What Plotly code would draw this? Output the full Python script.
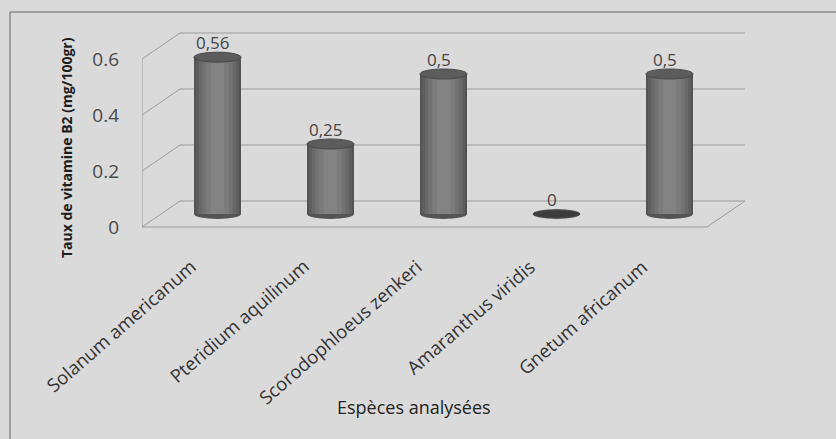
import plotly.graph_objects as go

# ---- data -------------------------------------------------------------
especes = [
    "Solanum americanum",
    "Pteridium aquilinum",
    "Scorodophloeus zenkeri",
    "Amaranthus viridis",
    "Gnetum africanum",
]
taux_b2 = [0.56, 0.25, 0.5, 0.0, 0.5]
y_ticks = [0, 0.2, 0.4, 0.6]
y_tick_text = ["0", "0.2", "0.4", "0.6"]

# ---- layout geometry (pixels) ----------------------------------------
W_FIG, H_FIG = 836, 439
M_L, M_R, M_T, M_B = 142, 76, 20, 194
PLOT_W = W_FIG - M_L - M_R
PLOT_H = H_FIG - M_T - M_B
PX_PER_CAT = 113.0          # horizontal pixels per category
PX_PER_UNIT = 280.0         # vertical pixels per mg/100gr
FLOOR_PX = 227.0            # pixel row of value 0 on the front plane
DEPTH_PX = (38.0, 26.0)     # front -> back shift of the 3-D box

n = len(especes)
x_lo = -0.5
x_range = [x_lo, x_lo + PLOT_W / PX_PER_CAT]
y_range = [-(M_T + PLOT_H - FLOOR_PX) / PX_PER_UNIT, (FLOOR_PX - M_T) / PX_PER_UNIT]

DX = DEPTH_PX[0] / PX_PER_CAT
DY = DEPTH_PX[1] / PX_PER_UNIT

# the cylinders stand half way into the box
x2_range = [x_range[0] - DX / 2, x_range[1] - DX / 2]
y2_range = [y_range[0] - DY / 2, y_range[1] - DY / 2]


def paper_x(px):
    return (px - M_L) / PLOT_W


def paper_y(py):
    return (M_T + PLOT_H - py) / PLOT_H


BG = "#dadada"
GRID = "#9c9c9c"
FONT = "Open Sans"

fig = go.Figure()

# invisible trace anchoring the front-plane axes
fig.add_trace(go.Scatter(x=list(range(n)), y=[0] * n, mode="markers",
                         marker=dict(opacity=0), hoverinfo="skip",
                         showlegend=False, xaxis="x", yaxis="y"))

# cylinder bodies: nested bars give the rounded shading
shades = [(0.416, "#545454"), (0.38, "#5e5e5e"), (0.33, "#686868"),
          (0.27, "#727272"), (0.2, "#7b7b7b"), (0.12, "#838383")]
for w, c in shades:
    fig.add_trace(go.Bar(
        x=list(range(n)), y=taux_b2, width=w,
        marker=dict(color=c, line=dict(width=0)),
        xaxis="x2", yaxis="y2", showlegend=False,
        hovertext=especes, hoverinfo="text+y",
    ))

shapes = []
line_style = dict(color=GRID, width=1)

# back wall gridlines
for v in y_ticks:
    shapes.append(dict(type="line", xref="x", yref="y", layer="below",
                       x0=x_lo + DX, x1=x_lo + n + DX, y0=v + DY, y1=v + DY,
                       line=line_style))
# left wall: front edge and receding lines
shapes.append(dict(type="line", xref="x", yref="y", layer="below",
                   x0=x_lo, x1=x_lo, y0=0, y1=max(y_ticks), line=line_style))
for v in y_ticks:
    shapes.append(dict(type="line", xref="x", yref="y", layer="below",
                       x0=x_lo, x1=x_lo + DX, y0=v, y1=v + DY, line=line_style))
# floor: front edge and right edge
shapes.append(dict(type="line", xref="x", yref="y", layer="below",
                   x0=x_lo, x1=x_lo + n, y0=0, y1=0, line=line_style))
shapes.append(dict(type="line", xref="x", yref="y", layer="below",
                   x0=x_lo + n, x1=x_lo + n + DX, y0=0, y1=DY, line=line_style))

# cylinder ends
half_w = shades[0][0] / 2
ell = 5.0 / PX_PER_UNIT
for i, v in enumerate(taux_b2):
    shapes.append(dict(type="circle", xref="x2", yref="y2", layer="below",
                       x0=i - half_w, x1=i + half_w, y0=-ell, y1=ell,
                       fillcolor="#545454", line=dict(width=0)))
    if v == 0:
        # an empty cylinder is a flat dark disc
        shapes.append(dict(type="circle", xref="x2", yref="y2", layer="above",
                           x0=i - half_w, x1=i + half_w, y0=-0.7 * ell, y1=0.7 * ell,
                           fillcolor="#3c3c3c", line=dict(color="#444444", width=1)))
    else:
        shapes.append(dict(type="circle", xref="x2", yref="y2", layer="above",
                           x0=i - half_w, x1=i + half_w, y0=v - ell, y1=v + ell,
                           fillcolor="#5c5c5c", line=dict(color="#474747", width=1)))

# chart frame
shapes.append(dict(type="line", xref="paper", yref="paper",
                   x0=paper_x(10), x1=paper_x(W_FIG + 5), y0=paper_y(12), y1=paper_y(12),
                   line=dict(color="#8a8a8a", width=1.5)))
shapes.append(dict(type="line", xref="paper", yref="paper",
                   x0=paper_x(10), x1=paper_x(10), y0=paper_y(12), y1=paper_y(H_FIG + 5),
                   line=dict(color="#8a8a8a", width=1.5)))

annotations = []
# value labels (decimal comma)
for i, v in enumerate(taux_b2):
    txt = ("%g" % v).replace(".", ",")
    annotations.append(dict(x=i, y=v, xref="x2", yref="y2", text=txt,
                            showarrow=False, xshift=-5, yshift=15,
                            font=dict(family=FONT, size=17, color="#454545")))
# category labels, slanted, ending under each category of the front plane
for i, name in enumerate(especes):
    annotations.append(dict(x=i, y=paper_y(251), xref="x", yref="paper",
                            text=name, textangle=-41, showarrow=False,
                            xanchor="right", yanchor="top", xshift=5,
                            font=dict(family=FONT, size=18.5, color="#333333")))
# axis titles
annotations.append(dict(x=paper_x(66), y=paper_y(148), xref="paper", yref="paper",
                        xanchor="center", yanchor="middle",
                        text="Taux de vitamine B2 (mg/100gr)", textangle=-90,
                        showarrow=False,
                        font=dict(family=FONT, size=14, color="#1e1e1e", weight="bold")))
annotations.append(dict(x=paper_x(414), y=paper_y(407), xref="paper", yref="paper",
                        xanchor="center", yanchor="middle",
                        text="Espèces analysées", showarrow=False,
                        font=dict(family=FONT, size=18, color="#222222")))

fig.update_layout(
    width=W_FIG, height=H_FIG,
    margin=dict(l=M_L, r=M_R, t=M_T, b=M_B),
    paper_bgcolor=BG, plot_bgcolor=BG,
    barmode="overlay",
    showlegend=False,
    shapes=shapes,
    annotations=annotations,
    xaxis=dict(range=x_range, tickvals=list(range(n)), showticklabels=False,
               showgrid=False, zeroline=False, showline=False, ticks="",
               fixedrange=True),
    yaxis=dict(range=y_range, tickvals=y_ticks, ticktext=y_tick_text,
               showgrid=False, zeroline=False, showline=False, ticks="",
               ticklabelstandoff=22,
               tickfont=dict(family=FONT, size=19, color="#4a4a4a"),
               fixedrange=True),
    xaxis2=dict(range=x2_range, overlaying="x", visible=False, fixedrange=True),
    yaxis2=dict(range=y2_range, overlaying="y", visible=False, fixedrange=True),
)

fig.write_html("out.html")
